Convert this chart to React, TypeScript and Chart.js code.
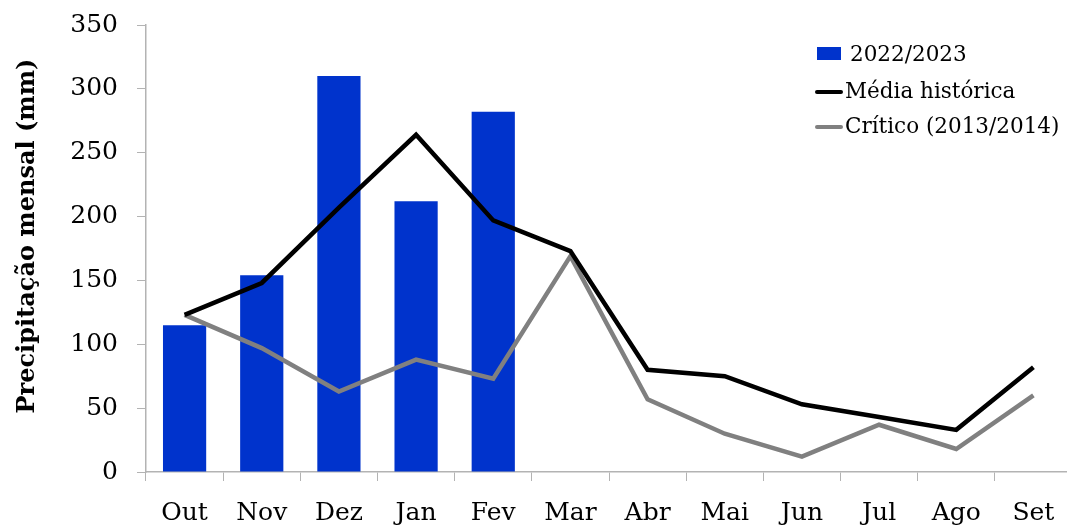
import React, { useEffect, useRef } from "react";
import { Chart, registerables } from "chart.js";

Chart.register(...registerables);

const categories = ["Out", "Nov", "Dez", "Jan", "Fev", "Mar", "Abr", "Mai", "Jun", "Jul", "Ago", "Set"];
const season20222023 = [115, 154, 310, 212, 282, null, null, null, null, null, null, null];
const mediaHistorica = [123, 148, 207, 264, 197, 173, 80, 75, 53, 43, 33, 82];
const critico20132014 = [123, 97, 63, 88, 73, 169, 57, 30, 12, 37, 18, 60];
const seriesLabels = ["2022/2023", "Média histórica", "Crítico (2013/2014)"];
const yAxisTitle = "Precipitação mensal (mm)";

const FONT = "'DejaVu Serif', serif";
const BLUE = "#0033cc";
const BLACK = "#000000";
const GRAY = "#808080";
const AXIS = "#b3b3b3";

const legendPlugin = {
  id: "customLegend",
  afterDraw(chart: any) {
    const ctx = chart.ctx;
    ctx.save();
    ctx.font = `21.5px ${FONT}`;
    ctx.textBaseline = "middle";
    ctx.fillStyle = BLUE;
    ctx.fillRect(817, 47, 24, 13);
    ctx.fillStyle = "#000";
    ctx.fillText(seriesLabels[0], 850, 55);
    const rows = [
      { y: 92, color: BLACK, label: seriesLabels[1] },
      { y: 127, color: GRAY, label: seriesLabels[2] },
    ];
    rows.forEach((r) => {
      ctx.strokeStyle = r.color;
      ctx.lineWidth = 4;
      ctx.lineCap = "round";
      ctx.beginPath();
      ctx.moveTo(817, r.y);
      ctx.lineTo(841, r.y);
      ctx.stroke();
      ctx.fillStyle = "#000";
      ctx.fillText(r.label, 845, r.y);
    });
    // y-axis title
    ctx.translate(28, 236);
    ctx.rotate(-Math.PI / 2);
    ctx.font = `bold 24px ${FONT}`;
    ctx.textAlign = "center";
    ctx.textBaseline = "middle";
    ctx.fillStyle = "#000";
    ctx.fillText(yAxisTitle, 0, 0);
    ctx.restore();
  },
};

export default function App() {
  const ref = useRef<HTMLCanvasElement | null>(null);

  useEffect(() => {
    if (!ref.current) return;
    const chart = new Chart(ref.current, {
      type: "bar",
      data: {
        labels: categories,
        datasets: [
          {
            type: "line",
            label: seriesLabels[1],
            data: mediaHistorica,
            borderColor: BLACK,
            backgroundColor: BLACK,
            borderWidth: 4.5,
            pointRadius: 0,
            tension: 0,
            order: 1,
          },
          {
            type: "line",
            label: seriesLabels[2],
            data: critico20132014,
            borderColor: GRAY,
            backgroundColor: GRAY,
            borderWidth: 4.5,
            pointRadius: 0,
            tension: 0,
            order: 1,
          },
          {
            type: "bar",
            label: seriesLabels[0],
            data: season20222023 as any,
            backgroundColor: BLUE,
            borderWidth: 0,
            barPercentage: 0.56,
            categoryPercentage: 1,
            order: 2,
          },
        ],
      },
      options: {
        responsive: false,
        animation: false,
        layout: { padding: { left: 0, right: 18, top: 25, bottom: 0 } },
        plugins: {
          legend: { display: false },
          tooltip: { enabled: false },
        },
        scales: {
          x: {
            offset: true,
            grid: {
              offset: true,
              drawOnChartArea: false,
              drawTicks: true,
              tickLength: 9,
              color: AXIS,
              lineWidth: 1,
            },
            border: { color: AXIS, width: 1.5 },
            ticks: {
              color: "#000",
              font: { family: FONT, size: 25 },
              padding: 17,
              maxRotation: 0,
            },
            afterFit(scale: any) {
              scale.height = 54;
              scale.paddingLeft = 0;
              scale.paddingRight = 0;
            },
          },
          y: {
            min: 0,
            max: 350,
            ticks: {
              stepSize: 50,
              color: "#000",
              font: { family: FONT, size: 25 },
              padding: 19,
            },
            grid: {
              drawOnChartArea: false,
              drawTicks: true,
              tickLength: 9,
              color: AXIS,
            },
            border: { color: AXIS, width: 1.5 },
            afterFit(scale: any) {
              scale.width = 146;
              scale.paddingTop = 0;
              scale.paddingBottom = 0;
            },
          },
        },
      },
      plugins: [legendPlugin],
    });
    return () => chart.destroy();
  }, []);

  return (
    <div style={{ position: "fixed", left: 0, top: 0, width: 1067, height: 526, overflow: "hidden", background: "#fff" }}>
      <canvas ref={ref} width={1090} height={526} style={{ width: 1090, height: 526, display: "block" }} />
    </div>
  );
}
